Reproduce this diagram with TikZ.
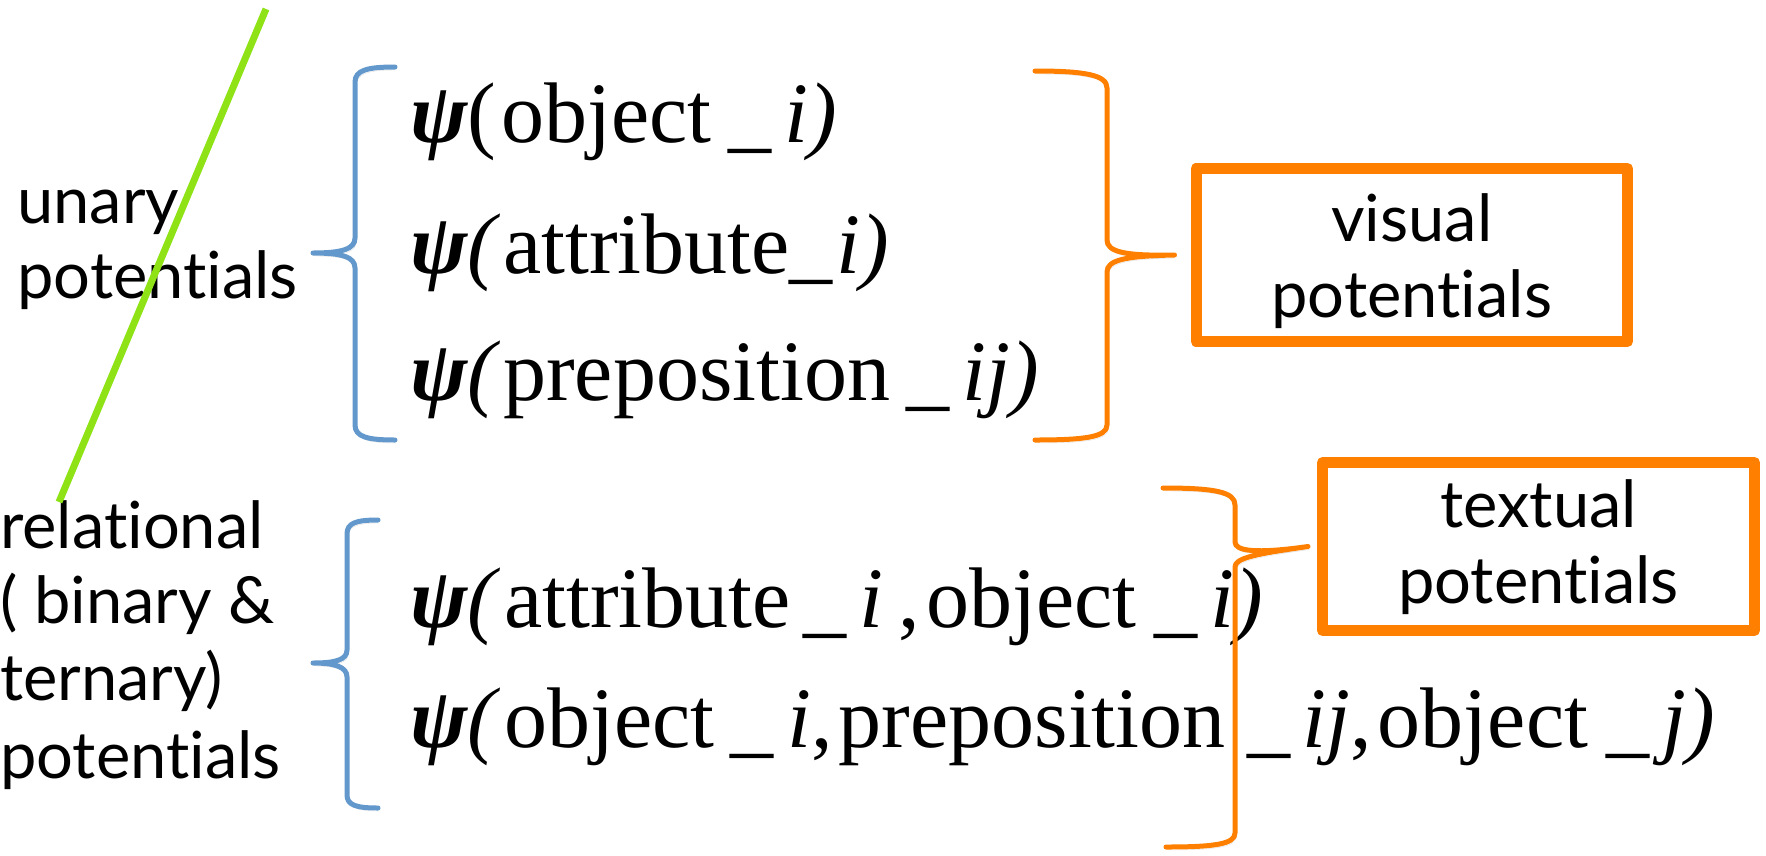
\documentclass[tikz,border=0pt]{standalone}
\usepackage{fontspec}
\setmainfont{Liberation Serif}
\newfontfamily\labelfont[Ligatures={NoCommon,NoContextual}]{Lato}
\definecolor{brblue}{RGB}{99,152,204}
\definecolor{brorange}{RGB}{255,127,0}
\definecolor{slashgreen}{RGB}{142,226,22}
\newcommand{\psisym}{{\bfseries\itshape ψ}}
\begin{document}
\begin{tikzpicture}[x=1pt,y=-1pt,
  formula/.style={anchor=base west, inner sep=0pt, font=\fontsize{86}{100}\selectfont},
  lbltext/.style={anchor=base west, inner sep=0pt, font=\labelfont\fontsize{65}{76}\selectfont},
  boxtext/.style={anchor=base, inner sep=0pt, font=\labelfont\fontsize{65}{76}\selectfont},
  potbox/.style={draw=brorange, line width=11pt, line join=round, inner sep=0pt, fill=white},
  braceshadow/.style={preaction={draw=black, draw opacity=0.12, transform canvas={shift={(1.5,3)}}}},
  bluebrace/.style={draw=brblue, line width=5pt, line cap=round, line join=round, braceshadow},
  orangebrace/.style={draw=brorange, line width=5pt, line cap=round, line join=round, braceshadow},
  slash/.style={draw=slashgreen, line width=7pt}]
\useasboundingbox (0,0) rectangle (1766,855);

% side labels
\node[lbltext] (un1) at (17,223) {unary};
\node[lbltext] (un2) at (17,298) {potentials};
\node[lbltext] (rel1) at (0,548) {relational};
\node[lbltext] (rel2) at (0,623) {( binary \&};
\node[lbltext] (rel3) at (0,700) {ternary)};
\node[lbltext] (rel4) at (0,778) {potentials};

% potential terms
\node[formula] (f1) at (410,142) {\psisym(\kern5pt object\kern17pt\_\kern13pt{\itshape i)}};
\node[formula] (f2) at (410,273) {\psisym{\itshape(}\kern7pt attribute\_\kern4pt{\itshape i)}};
\node[formula] (f3) at (410,400) {\psisym{\itshape(}\kern7pt preposition\kern16pt\_\kern13pt{\itshape ij)}};
\node[formula] (f4) at (410,627) {\psisym{\itshape(}\kern8pt attribute\kern13pt\_\kern13pt{\itshape i}\kern15pt,\kern6pt object\kern18pt\_\kern13pt{\itshape i)}};
\node[formula] (f5) at (410,747) {\psisym{\itshape(}\kern8pt object\kern16pt\_\kern14pt{\itshape i},\kern6pt preposition\kern22pt\_\kern12pt{\itshape ij},\kern6pt object\kern18pt\_\kern13pt{\itshape j)}};

% result boxes
\node[potbox, minimum width=431.5pt, minimum height=173pt] (visbox) at (1411.75,255) {};
\node[boxtext] (vis1) at (visbox.center |- 0,241) {visual};
\node[boxtext] (vis2) at (visbox.center |- 0,317) {potentials};
\node[potbox, minimum width=432pt, minimum height=168pt] (txtbox) at (1538.5,546.5) {};
\node[boxtext] (txt1) at (txtbox.center |- 0,527) {textual};
\node[boxtext] (txt2) at (txtbox.center |- 0,603) {potentials};

% brace tips
\coordinate (utip) at (313,253);
\coordinate (rtip) at (313,663);
\coordinate (vtip) at ([xshift=-16pt]visbox.west);
\coordinate (ttip) at ([xshift=-9pt]txtbox.west);

% grouping braces
\draw[bluebrace] (395,67) .. controls (368,67) and (355,70) .. (355,82) -- (355,238)
  .. controls (355,249) and (342,253) .. (utip)
  .. controls (342,253) and (355,257) .. (355,268) -- (355,425)
  .. controls (355,437) and (368,440) .. (395,440);
\draw[bluebrace] (378,520) .. controls (356,520) and (347,523) .. (347,534) -- (347,650)
  .. controls (347,660) and (335,663) .. (rtip)
  .. controls (335,663) and (347,667) .. (347,677) -- (347,795)
  .. controls (347,805) and (356,808) .. (378,808);
\draw[orangebrace] (1035,71) .. controls (1085,71) and (1107,75) .. (1107,88) -- (1107,240)
  .. controls (1107,252) and (1125,256) .. (vtip)
  .. controls (1125,256) and (1107,260) .. (1107,272) -- (1107,425)
  .. controls (1107,437) and (1085,440) .. (1035,440);
\draw[orangebrace] (1163,488) .. controls (1215,488) and (1235,492) .. (1235,505) -- (1235,542)
  .. controls (1235,551) and (1255,554) .. (ttip)
  .. controls (1255,554) and (1235,558) .. (1235,567) -- (1235,833)
  .. controls (1235,844) and (1215,847) .. (1166,847);

% strike-through line
\coordinate (slashtop) at (266,9);
\coordinate (slashbot) at (59,502);
\draw[slash] (slashtop) -- (slashbot);
\end{tikzpicture}
\end{document}
